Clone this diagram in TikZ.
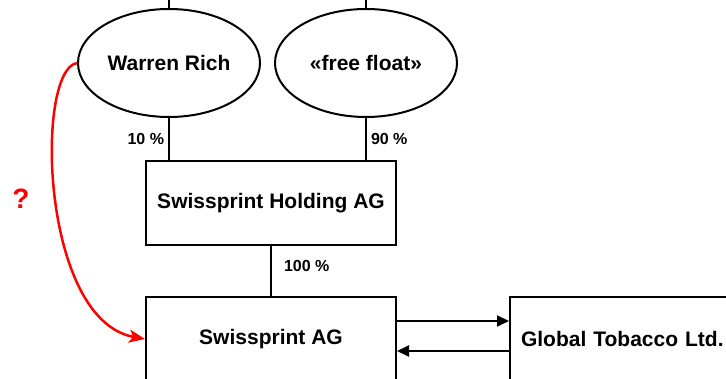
\documentclass[tikz,border=0pt]{standalone}
\usepackage{fontspec}
\setmainfont{Liberation Sans}
\usepackage{tikz}
\usetikzlibrary{arrows.meta,positioning,shapes.geometric}
\definecolor{shink}{HTML}{000000}
\definecolor{shred}{HTML}{FF0000}
\tikzset{
  own/.style={ellipse, draw=shink, line width=2pt, minimum width=182pt, minimum height=108pt, inner sep=0pt, font=\fontsize{21}{25}\selectfont\bfseries},
  co/.style={rectangle, draw=shink, line width=2pt, minimum width=250pt, minimum height=84pt, font=\fontsize{21}{25}\selectfont\bfseries},
  ln/.style={line width=2pt, color=shink},
  arr/.style={-{Triangle[length=12pt,width=11pt]}, line width=2pt, color=shink},
  ask/.style={-{Stealth[length=16pt,width=13pt,inset=4pt]}, line width=2.5pt, color=shred},
  lbl/.style={font=\fontsize{16}{19}\selectfont\bfseries, inner sep=4pt},
}
\begin{document}
\begin{tikzpicture}[x=1pt,y=-1pt]
  \clip (0,0) rectangle (726,379);
  \coordinate (rim) at (0,0);
  % owners
  \node[own] (warren) at (169,63) {Warren Rich};
  \node[own] (float) at (366,63) {«free float»};
  % companies
  \node[co] (holding) at (271,203) {Swissprint Holding AG};
  \node[co] (ag) at (271,339) {Swissprint AG};
  \node[co, anchor=west, text width=228pt, inner xsep=11pt, align=left] (glob) at (509,339) {Global Tobacco Ltd.};
  \node[text=shred, font=\fontsize{28}{32}\selectfont\bfseries] (ask) at (21,199) {?};
  % shares
  \draw[ln] (warren.north) -- (warren.north |- rim);
  \draw[ln] (float.north) -- (float.north |- rim);
  \draw[ln] (warren.south) -- (warren.south |- holding.north) node[lbl, midway, left] {10 \%};
  \draw[ln] (float.south) -- (float.south |- holding.north) node[lbl, midway, right] {90 \%};
  \draw[ln] (holding.south) -- (ag.north) node[lbl, pos=0.4, right, xshift=8pt] {100 \%};
  % trade
  \draw[arr] ([yshift=18pt]ag.east) -- ([yshift=18pt]glob.west);
  \draw[arr] ([yshift=-12pt]glob.west) -- ([yshift=-12pt]ag.east);
  \draw[ask] (warren.west) .. controls (35,70) and (40,320) .. (ag.west);
\end{tikzpicture}
\end{document}
